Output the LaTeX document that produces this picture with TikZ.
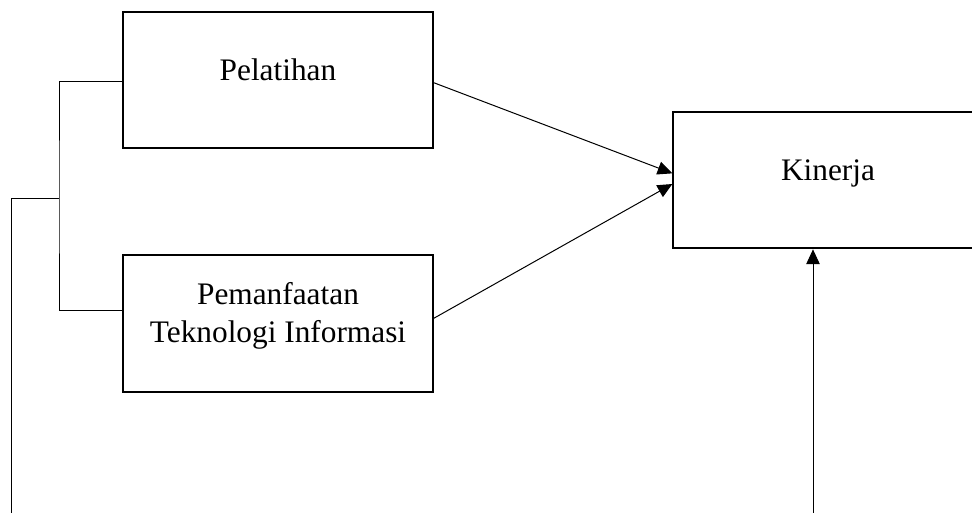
\documentclass[tikz,border=0pt]{standalone}
\usepackage{fontspec}
\setmainfont{Liberation Serif}
\usepackage{tikz}
\usetikzlibrary{arrows.meta,positioning}

\begin{document}
\begin{tikzpicture}[
    x=0.75pt, y=-0.75pt,
    varbox/.style={rectangle, draw, line width=1.5pt, minimum width=232pt, minimum height=102.5pt, align=center, font=\fontsize{23.5pt}{28.5pt}\selectfont},
    oneline/.style={text height=15pt, text depth=15pt},
    link/.style={line width=0.75pt},
    arrowlink/.style={line width=0.75pt, -{Triangle[length=11pt, width=10pt]}}
]
\useasboundingbox (0,0) rectangle (972,512);
\clip (0,0) rectangle (972,512);

\node[varbox, oneline] (pelatihan) at (278,80) {Pelatihan};
\node[varbox, text depth=17pt] (teknologi) at (278,323.7) {Pemanfaatan\\Teknologi Informasi};
\node[varbox, oneline] (kinerja) at (828,180) {Kinerja};

% bracket on the left
\coordinate (split) at (59,198);
\coordinate (footleft) at (11,530);
\coordinate (footright) at (813,530);
\draw[link] ([yshift=-1pt]pelatihan.west) -| (split) |- ([yshift=10pt]teknologi.west);
\draw[link] (split) -| (footleft);

% arrows to Kinerja
\draw[arrowlink] ([yshift=-2pt]pelatihan.east) -- ([yshift=5pt]kinerja.west);
\draw[arrowlink] ([yshift=4pt]teknologi.east) -- ([yshift=-3pt]kinerja.west);
\draw[arrowlink] (footright) -- (footright |- kinerja.south);

\end{tikzpicture}
\end{document}
